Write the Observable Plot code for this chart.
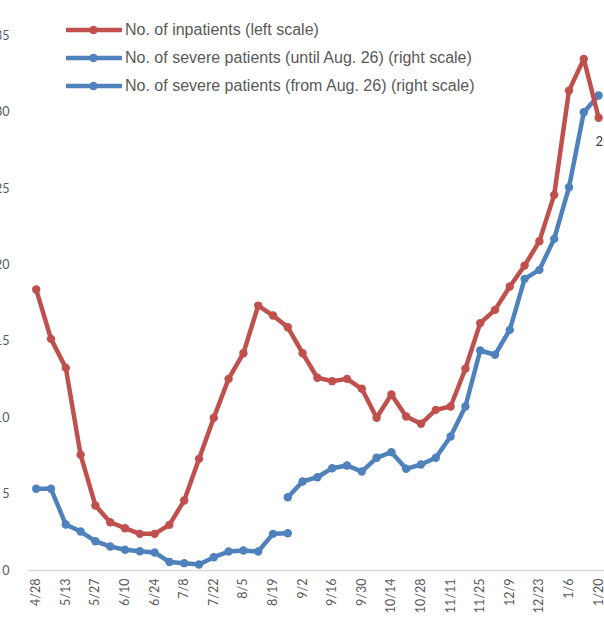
<!DOCTYPE html>
<html><head><meta charset="utf-8">
<script src="https://cdn.jsdelivr.net/npm/d3@7"></script>
<script src="https://cdn.jsdelivr.net/npm/@observablehq/plot@0.6"></script>
<style>
html,body{margin:0;padding:0;background:#fff;overflow:hidden;}
#wrap{position:relative;width:604px;height:627px;overflow:hidden;}
#legend{position:absolute;left:66px;top:0;font-family:"Liberation Sans",Arial,sans-serif;font-size:16px;color:#595959;}
.item{position:absolute;left:0;white-space:nowrap;display:flex;align-items:center;height:20px;}
.item svg{margin-right:3px;}
</style></head>
<body><div id="wrap"><div id="chart"></div><div id="legend"></div></div>
<script>
// Weekly categories (only every other one is labelled on the axis)
const dates = ["4/28","5/6","5/13","5/20","5/27","6/3","6/10","6/17","6/24","7/1","7/8","7/15","7/22","7/29","8/5","8/12","8/19","8/26","9/2","9/9","9/16","9/23","9/30","10/7","10/14","10/21","10/28","11/4","11/11","11/18","11/25","12/2","12/9","12/16","12/23","12/30","1/6","1/13","1/20"];
const xTickLabels = ["4/28","5/13","5/27","6/10","6/24","7/8","7/22","8/5","8/19","9/2","9/16","9/30","10/14","10/28","11/11","11/25","12/9","12/23","1/6","1/20"];
const yTicks = [0,5,10,15,20,25,30,35];

// No. of inpatients (left scale)
const inpatients = [18.40,15.17,13.27,7.58,4.26,3.16,2.77,2.40,2.40,2.99,4.58,7.31,10.00,12.55,14.23,17.35,16.70,15.93,14.23,12.62,12.40,12.55,11.90,10.00,11.53,10.09,9.61,10.52,10.74,13.21,16.20,17.07,18.60,19.97,21.57,24.60,31.43,33.51,29.65];
// Severe patients (right scale; right axis not visible, values read in left-axis units)
const severeUntilDates = ["4/28","5/6","5/13","5/20","5/27","6/3","6/10","6/17","6/24","7/1","7/8","7/15","7/22","7/29","8/5","8/12","8/19","8/26"];
const severeUntil = [5.35,5.35,3.01,2.55,1.92,1.57,1.36,1.26,1.18,0.56,0.48,0.39,0.87,1.24,1.31,1.24,2.40,2.44];
const severeFromDates = ["8/26","9/2","9/9","9/16","9/23","9/30","10/7","10/14","10/21","10/28","11/4","11/11","11/18","11/25","12/2","12/9","12/16","12/23","12/30","1/6","1/13","1/20"];
const severeFrom = [4.80,5.83,6.11,6.70,6.88,6.48,7.38,7.75,6.66,6.94,7.38,8.78,10.74,14.41,14.13,15.76,19.10,19.69,21.72,25.10,30.01,31.11];

const seriesNames = ["No. of inpatients (left scale)","No. of severe patients (until Aug. 26) (right scale)","No. of severe patients (from Aug. 26) (right scale)"];
const colors = ["#C0504D","#4F81BD","#4F81BD"];

const inRows = dates.map((d,i)=>({date:d, v:inpatients[i]}));
const untilRows = severeUntilDates.map((d,i)=>({date:d, v:severeUntil[i]}));
const fromRows = severeFromDates.map((d,i)=>({date:d, v:severeFrom[i]}));
const lastIn = inRows[inRows.length-1];

const lw = 4.5, r = 4.2;
const plot = Plot.plot({
  width: 604, height: 627,
  marginLeft: 28, marginRight: 0, marginTop: 35.6, marginBottom: 57,
  style: {fontFamily: "Lato, 'Noto Sans', sans-serif", fontSize: "12.5px", color: "#595959", background: "#fff", overflow: "hidden"},
  x: {type: "point", domain: dates, range: [35.7, 598.1], padding: 0},
  y: {domain: [0, 35]},
  marks: [
    Plot.ruleY([0], {stroke: "#D9D9D9", strokeWidth: 1.5}),
    Plot.axisY({ticks: yTicks, tickSize: 0, tickPadding: 19, label: null}),
    Plot.axisX({ticks: xTickLabels, tickSize: 0, tickPadding: 8, tickRotate: -90, label: null}),
    Plot.line(untilRows, {x: "date", y: "v", stroke: colors[1], strokeWidth: lw, strokeLinejoin: "round"}),
    Plot.dot(untilRows, {x: "date", y: "v", fill: colors[1], r}),
    Plot.line(fromRows, {x: "date", y: "v", stroke: colors[2], strokeWidth: lw, strokeLinejoin: "round"}),
    Plot.dot(fromRows, {x: "date", y: "v", fill: colors[2], r}),
    Plot.line(inRows, {x: "date", y: "v", stroke: colors[0], strokeWidth: lw, strokeLinejoin: "round"}),
    Plot.dot(inRows, {x: "date", y: "v", fill: colors[0], r}),
    Plot.text([lastIn], {x: "date", y: "v", text: d => d.v.toFixed(1), dx: -3, dy: 24, textAnchor: "start", fill: "#404040", fontSize: 13, fontFamily: "Lato, sans-serif"})
  ]
});
document.getElementById("chart").appendChild(plot);

const legend = document.getElementById("legend");
const tops = [20, 48, 75.5];
seriesNames.forEach((name, i) => {
  const div = document.createElement("div");
  div.className = "item";
  div.style.top = tops[i] + "px";
  div.innerHTML = `<svg width="56" height="12"><line x1="1" y1="6" x2="55" y2="6" stroke="${colors[i]}" stroke-width="4.5" stroke-linecap="round"/><circle cx="27.5" cy="6" r="4.2" fill="${colors[i]}"/></svg><span>${name}</span>`;
  legend.appendChild(div);
});
</script>
</body></html>
